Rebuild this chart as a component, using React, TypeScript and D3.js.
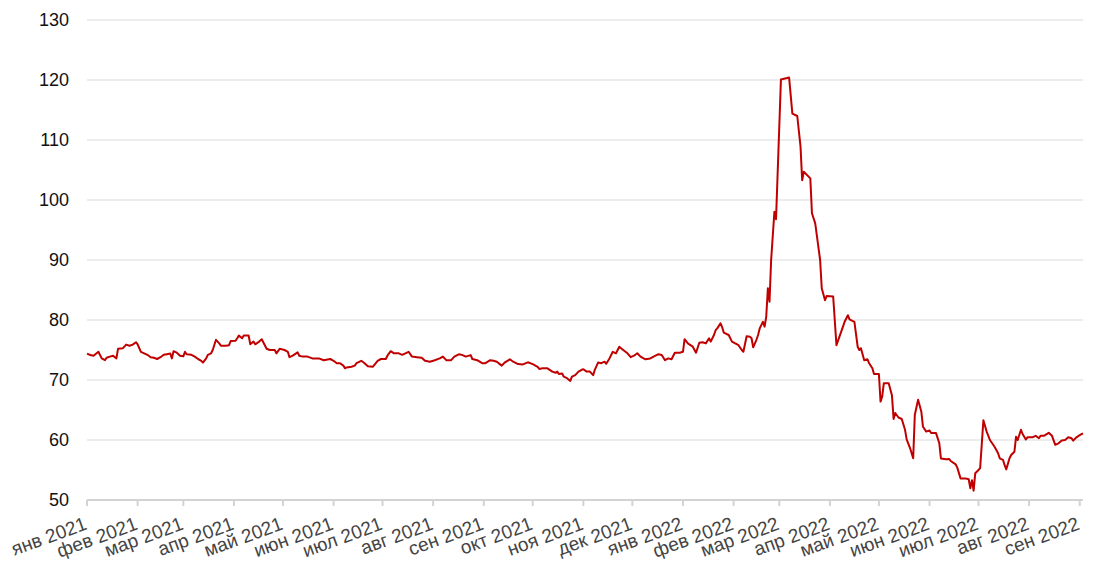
import React from "react";
import * as d3 from "d3";

const monthNames = ["янв", "фев", "мар", "апр", "май", "июн", "июл", "авг", "сен", "окт", "ноя", "дек"];
const yTicks = [50, 60, 70, 80, 90, 100, 110, 120, 130];

const dates2021 = [
  "2021-01-01","2021-01-03","2021-01-05","2021-01-08","2021-01-10","2021-01-12","2021-01-13","2021-01-15","2021-01-17","2021-01-19",
  "2021-01-20","2021-01-23","2021-01-25","2021-01-27","2021-01-29","2021-01-31","2021-02-01","2021-02-03","2021-02-05","2021-02-07",
  "2021-02-09","2021-02-11","2021-02-13","2021-02-15","2021-02-17","2021-02-19","2021-02-21","2021-02-22","2021-02-23","2021-02-25",
  "2021-02-27","2021-03-01","2021-03-02","2021-03-03","2021-03-06","2021-03-08","2021-03-10","2021-03-12","2021-03-13","2021-03-15",
  "2021-03-16","2021-03-18","2021-03-19","2021-03-21","2021-03-23","2021-03-24","2021-03-27","2021-03-29","2021-03-30","2021-04-02",
  "2021-04-03","2021-04-04","2021-04-06","2021-04-07","2021-04-10","2021-04-11","2021-04-13","2021-04-14","2021-04-16","2021-04-18",
  "2021-04-21","2021-04-23","2021-04-26","2021-04-27","2021-04-29","2021-05-02","2021-05-04","2021-05-05","2021-05-07","2021-05-10",
  "2021-05-11","2021-05-13","2021-05-16","2021-05-19","2021-05-23","2021-05-26","2021-05-30","2021-06-01","2021-06-03","2021-06-05",
  "2021-06-07","2021-06-08","2021-06-09","2021-06-12","2021-06-14","2021-06-15","2021-06-18","2021-06-20","2021-06-22","2021-06-25",
  "2021-06-28","2021-06-30","2021-07-03","2021-07-04","2021-07-06","2021-07-08","2021-07-11","2021-07-13","2021-07-15","2021-07-17",
  "2021-07-19","2021-07-22","2021-07-25","2021-07-27","2021-07-30","2021-08-02","2021-08-05","2021-08-07","2021-08-09","2021-08-12",
  "2021-08-14","2021-08-17","2021-08-19","2021-08-21","2021-08-24","2021-08-25","2021-08-28","2021-08-31","2021-09-02","2021-09-05",
  "2021-09-07","2021-09-09","2021-09-12","2021-09-14","2021-09-17","2021-09-19","2021-09-22","2021-09-25","2021-09-28","2021-10-01",
  "2021-10-04","2021-10-05","2021-10-07","2021-10-10","2021-10-13","2021-10-15","2021-10-16","2021-10-17","2021-10-19","2021-10-20",
  "2021-10-22","2021-10-24","2021-10-25","2021-10-27","2021-10-29","2021-10-31","2021-11-01","2021-11-03","2021-11-05","2021-11-07",
  "2021-11-08","2021-11-10","2021-11-12","2021-11-14","2021-11-15","2021-11-17","2021-11-19","2021-11-21","2021-11-22","2021-11-23",
  "2021-11-25","2021-11-28","2021-11-30","2021-12-02","2021-12-04","2021-12-06","2021-12-09","2021-12-12","2021-12-14","2021-12-17",
  "2021-12-19","2021-12-21","2021-12-23","2021-12-25","2021-12-27","2021-12-30",
];
const values2021 = [
  74.4,74.17,74.05,74.7,73.6,73.3,73.7,73.9,74.05,73.6,
  75.2,75.3,75.9,75.7,75.9,76.3,75.95,74.7,74.45,74.2,
  73.8,73.7,73.5,73.8,74.2,74.3,74.4,73.6,74.8,74.55,
  74.05,73.95,74.7,74.3,74.2,73.9,73.5,73.2,72.9,73.6,
  74.2,74.45,75.0,76.7,76.1,75.7,75.7,75.8,76.5,76.55,
  76.95,77.4,76.95,77.4,77.4,75.95,76.4,75.95,76.3,76.8,
  75.2,75.0,75.0,74.45,75.2,75.0,74.7,73.8,74.05,74.6,
  74.05,73.9,73.9,73.6,73.6,73.3,73.5,73.2,72.8,72.8,
  72.4,71.95,72.1,72.2,72.4,72.8,73.2,72.8,72.3,72.2,
  73.2,73.5,73.5,74.05,74.8,74.45,74.45,74.2,74.45,74.7,
  73.9,73.8,73.7,73.2,73.05,73.3,73.6,73.9,73.3,73.3,
  73.9,74.3,74.15,73.9,74.15,73.5,73.3,72.8,72.8,73.3,
  73.2,73.05,72.4,72.95,73.45,73.05,72.65,72.6,72.95,72.65,
  72.2,71.85,71.95,71.95,71.4,71.2,71.4,71.0,71.1,70.55,
  70.3,69.85,70.55,70.8,71.4,71.7,71.8,71.4,71.4,70.8,
  71.7,72.9,72.8,73.05,72.7,73.6,74.7,74.45,75.0,75.55,
  75.1,74.45,73.8,74.05,74.45,73.9,73.45,73.6,73.9,74.3,
  74.17,73.3,73.6,73.45,74.55,74.55,
];

const dates2022 = [
  "2022-01-01","2022-01-02","2022-01-04","2022-01-07","2022-01-09","2022-01-11","2022-01-13","2022-01-15","2022-01-17","2022-01-18",
  "2022-01-20","2022-01-21","2022-01-22","2022-01-24","2022-01-25","2022-01-26","2022-01-29","2022-01-31","2022-02-02","2022-02-04",
  "2022-02-06","2022-02-07","2022-02-09","2022-02-11","2022-02-12","2022-02-13","2022-02-15","2022-02-16","2022-02-17","2022-02-19",
  "2022-02-20","2022-02-21","2022-02-22","2022-02-23","2022-02-24","2022-02-26","2022-02-27","2022-03-02","2022-03-07","2022-03-09",
  "2022-03-12","2022-03-14","2022-03-15","2022-03-16","2022-03-20","2022-03-21","2022-03-23","2022-03-26","2022-03-27","2022-03-29",
  "2022-03-30","2022-04-03","2022-04-05","2022-04-09","2022-04-10","2022-04-12","2022-04-13","2022-04-16","2022-04-18","2022-04-19",
  "2022-04-20","2022-04-22","2022-04-24","2022-04-25","2022-04-27","2022-04-28","2022-05-01","2022-05-02","2022-05-03","2022-05-04",
  "2022-05-07","2022-05-09","2022-05-10","2022-05-11","2022-05-13","2022-05-15","2022-05-17","2022-05-18","2022-05-20","2022-05-22",
  "2022-05-23","2022-05-25","2022-05-27","2022-05-28","2022-05-30","2022-06-01","2022-06-02","2022-06-05","2022-06-07","2022-06-08",
  "2022-06-11","2022-06-13","2022-06-14","2022-06-17","2022-06-18","2022-06-20","2022-06-23","2022-06-25","2022-06-26","2022-06-27",
  "2022-06-28","2022-06-29","2022-07-01","2022-07-02","2022-07-04","2022-07-06","2022-07-08","2022-07-10","2022-07-11","2022-07-13",
  "2022-07-14","2022-07-16","2022-07-17","2022-07-18","2022-07-20","2022-07-21","2022-07-23","2022-07-24","2022-07-25","2022-07-27",
  "2022-07-28","2022-07-30","2022-07-31","2022-08-03","2022-08-05","2022-08-07","2022-08-08","2022-08-10","2022-08-13","2022-08-15",
  "2022-08-17","2022-08-19","2022-08-21","2022-08-23","2022-08-25","2022-08-27","2022-08-28","2022-08-30","2022-09-01","2022-09-03",
];
const values2022 = [
  74.7,76.8,76.1,75.55,74.55,76.2,76.3,76.1,76.95,76.4,
  77.5,78.3,78.6,79.45,78.8,77.9,77.5,76.4,76.1,75.8,
  75.0,74.7,77.3,77.2,76.95,75.45,76.7,77.5,78.6,79.7,
  78.9,80.55,85.3,83.05,90.0,98.05,96.8,120.1,120.4,114.4,
  114.0,108.9,103.3,104.7,103.6,97.8,96.1,90.0,85.3,83.3,
  84.0,83.9,75.8,78.9,79.7,80.8,80.1,79.7,75.55,75.0,
  75.3,73.3,73.45,72.8,71.95,71.0,71.0,66.4,67.2,69.45,
  69.45,67.4,63.5,64.5,63.75,63.5,61.7,60.1,58.7,56.95,
  64.2,66.7,64.7,62.2,61.4,61.6,61.15,61.15,59.45,56.9,
  56.8,56.85,56.5,55.95,55.4,53.6,53.6,53.45,51.95,53.3,
  51.55,54.45,55.0,55.3,63.3,61.4,60.0,59.2,58.8,57.8,
  56.95,56.7,55.8,55.1,56.95,57.5,58.05,60.55,60.0,61.7,
  61.0,60.1,60.45,60.45,60.7,60.3,60.7,60.7,61.2,60.7,
  59.2,59.45,59.9,60.0,60.45,60.3,59.9,60.45,60.8,61.1,
];

const W = 1100;
const H = 580;
const left = 87;
const right = 1083;
const top = 20;
const bottom = 500;

export default function App() {
  const parse = d3.utcParse("%Y-%m-%d");
  const dates = [...dates2021, ...dates2022].map((s) => parse(s) as Date);
  const values = [...values2021, ...values2022];
  const data = dates.map((d, i) => ({ d, v: values[i] }));

  const x = d3.scaleUtc().domain(d3.extent(dates) as [Date, Date]).range([left, right]);
  const y = d3.scaleLinear().domain([50, 130]).range([bottom, top]);

  const months = d3.utcMonth.range(new Date(Date.UTC(2021, 0, 1)), new Date(Date.UTC(2022, 8, 2)));

  const line = d3
    .line<{ d: Date; v: number }>()
    .x((p) => x(p.d))
    .y((p) => y(p.v));

  const font = "'Liberation Sans', Arial, Helvetica, sans-serif";

  return (
    <svg
      width={W}
      height={H}
      style={{ position: "absolute", left: 0, top: 0, background: "#fff" }}
    >
      {yTicks.map((t) => (
        <g key={t}>
          {t !== 50 && (
            <line x1={left} x2={right} y1={y(t)} y2={y(t)} stroke="#ededed" strokeWidth={2} />
          )}
          <text
            x={69}
            y={y(t)}
            dy="0.35em"
            textAnchor="end"
            fontFamily={font}
            fontSize={18}
            fill="#111"
          >
            {t}
          </text>
        </g>
      ))}
      <line x1={left} x2={right} y1={bottom} y2={bottom} stroke="#d3d3d3" strokeWidth={2} />
      {months.map((m, i) => (
        <g key={i}>
          <line x1={x(m)} x2={x(m)} y1={bottom} y2={bottom + 6} stroke="#d3d3d3" strokeWidth={2} />
          <text
            transform={`translate(${x(m) + 1},${bottom + 29}) rotate(-20)`}
            textAnchor="end"
            fontFamily={font}
            fontSize={19}
            fill="#444"
          >
            {`${monthNames[m.getUTCMonth()]} ${m.getUTCFullYear()}`}
          </text>
        </g>
      ))}
      <path d={line(data) || ""} fill="none" stroke="#c00000" strokeWidth={2} strokeLinejoin="round" />
    </svg>
  );
}
